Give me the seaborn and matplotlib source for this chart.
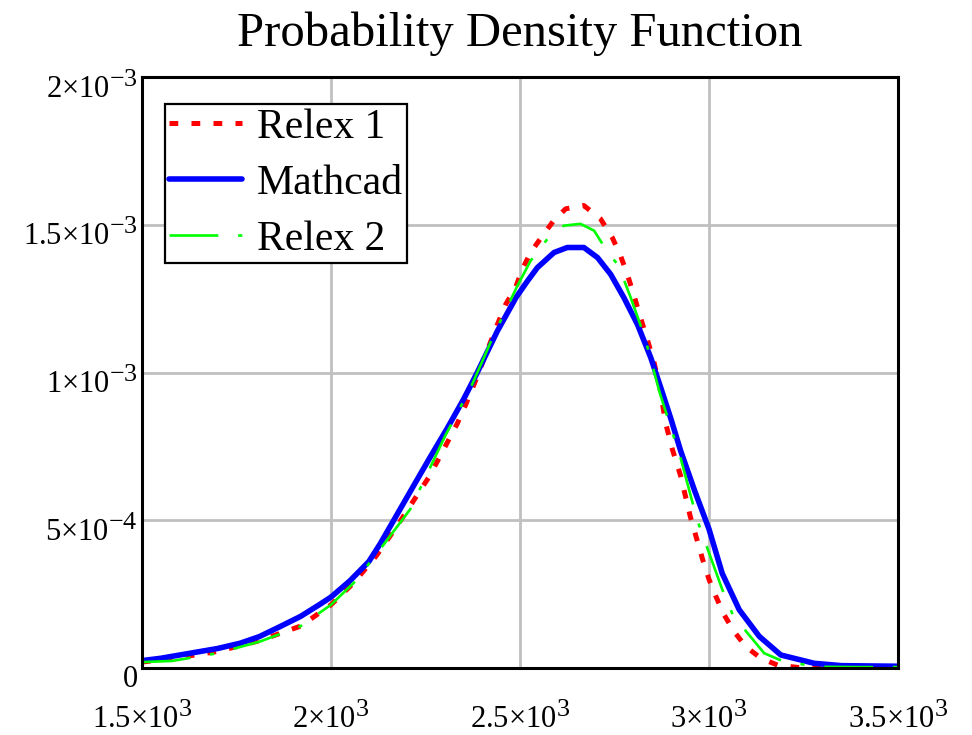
import numpy as np
import pandas as pd
import matplotlib
matplotlib.use("Agg")
import matplotlib.pyplot as plt
import matplotlib.transforms as mtransforms
from matplotlib.ticker import FixedLocator, FixedFormatter
import seaborn as sns

try:
    import matplotlib._mathtext as _mt
    _mt.SHRINK_FACTOR = 0.85
except Exception:
    pass

# ---------------- data ----------------
mathcad_x = [1500, 1550, 1600, 1650, 1700, 1760, 1810, 1865, 1920, 1970, 2000,
             2050, 2100, 2130, 2166, 2220, 2263, 2307, 2351, 2387, 2440, 2490,
             2520, 2546, 2590, 2625, 2669, 2705, 2740, 2775, 2811, 2846, 2872,
             2900, 2925, 2962, 3000, 3035, 3080, 3133, 3190, 3278, 3350, 3420,
             3500]
mathcad_y = [2.5e-5, 3.3e-5, 4.4e-5, 5.5e-5, 6.6e-5, 8.4e-5, 1.06e-4, 1.40e-4,
             1.75e-4, 2.15e-4, 2.4e-4, 2.95e-4, 3.6e-4, 4.2e-4, 5.0e-4,
             6.2e-4, 7.15e-4, 8.1e-4, 9.1e-4, 1.0e-3, 1.14e-3, 1.255e-3,
             1.31e-3, 1.355e-3, 1.406e-3, 1.423e-3, 1.423e-3, 1.389e-3,
             1.332e-3, 1.253e-3, 1.162e-3, 1.05e-3, 9.5e-4, 8.4e-4, 7.35e-4,
             6.0e-4, 4.7e-4, 3.2e-4, 1.97e-4, 1.07e-4, 4.4e-5, 1.6e-5, 8e-6,
             7e-6, 6e-6]

relex1_x = [1500, 1600, 1700, 1810, 1920, 2000, 2060, 2120, 2175, 2259, 2285,
            2334, 2356, 2378, 2440, 2462, 2489, 2506, 2528, 2563, 2591, 2621,
            2669, 2713, 2744, 2766, 2784, 2802, 2819, 2837, 2854, 2870, 2885,
            2903, 2925, 2950, 2983, 3000, 3018, 3040, 3066, 3097, 3137, 3181,
            3234, 3350, 3500]
relex1_y = [2.0e-5, 3.6e-5, 5.6e-5, 9.2e-5, 1.42e-4, 2.14e-4, 2.88e-4, 3.8e-4,
            4.81e-4, 6.46e-4, 7.08e-4, 8.27e-4, 8.9e-4, 9.58e-4, 1.162e-3,
            1.23e-3, 1.29e-3, 1.349e-3, 1.406e-3, 1.469e-3, 1.517e-3, 1.554e-3,
            1.565e-3, 1.52e-3, 1.457e-3, 1.395e-3, 1.332e-3, 1.259e-3, 1.185e-3,
            1.111e-3, 1.037e-3, 9.5e-4, 8.3e-4, 7.4e-4, 6.5e-4, 5.15e-4,
            3.68e-4, 3.0e-4, 2.43e-4, 1.8e-4, 1.24e-4, 7.3e-5, 3.3e-5, 1.0e-5,
            2e-6, 1e-6, 0.0]

relex2_x = [1500, 1580, 1700, 1813, 1919, 2000, 2060, 2120, 2210, 2303, 2369,
            2431, 2493, 2528, 2572, 2616, 2660, 2696, 2731, 2758, 2776, 2793,
            2830, 2870, 2925, 2969, 3000, 3035, 3061, 3091, 3146, 3199, 3261,
            3300, 3400, 3500]
relex2_y = [2.0e-5, 2.4e-5, 5.0e-5, 9.0e-5, 1.41e-4, 2.14e-4, 2.88e-4, 3.85e-4,
            5.38e-4, 7.88e-4, 9.47e-4, 1.128e-3, 1.293e-3, 1.378e-3, 1.451e-3,
            1.497e-3, 1.503e-3, 1.48e-3, 1.409e-3, 1.366e-3, 1.31e-3, 1.253e-3,
            1.12e-3, 9.3e-4, 7.1e-4, 5.0e-4, 3.9e-4, 2.66e-4, 1.86e-4, 1.35e-4,
            5.0e-5, 2.1e-5, 1.0e-5, 4e-6, 3e-6, 3e-6]

x_ticks = [1500, 2000, 2500, 3000, 3500]
x_tick_labels = [r"$1.5{\times}10^{3}$", r"$2{\times}10^{3}$", r"$2.5{\times}10^{3}$",
                 r"$3{\times}10^{3}$", r"$3.5{\times}10^{3}$"]
y_ticks = [0, 5e-4, 1e-3, 1.5e-3, 2e-3]
y_tick_labels = ["0", r"$5{\times}10^{-4}$", r"$1{\times}10^{-3}$",
                 r"$1.5{\times}10^{-3}$", r"$2{\times}10^{-3}$"]
title = "Probability Density Function"
series_names = ["Relex 1", "Mathcad", "Relex 2"]

# ---------------- style ----------------
sns.set_theme(style="whitegrid")
plt.rcParams["font.family"] = ["Liberation Serif", "DejaVu Serif"]
plt.rcParams["mathtext.fontset"] = "custom"
plt.rcParams["mathtext.rm"] = "Liberation Serif"
plt.rcParams["mathtext.it"] = "Liberation Serif:italic"
plt.rcParams["mathtext.bf"] = "Liberation Serif:bold"

fig = plt.figure(figsize=(9.72, 7.35), dpi=100)
ax = fig.add_axes([142 / 972, 1 - 668 / 735, 756 / 972, 591 / 735])
ax.set_facecolor("white")

sns.lineplot(x=relex1_x, y=relex1_y, ax=ax, color="#ff0000", linewidth=3.6,
             linestyle=(0, (1.75, 2.65)), label=series_names[0], zorder=3)
sns.lineplot(x=mathcad_x, y=mathcad_y, ax=ax, color="#0000ff", linewidth=4.0,
             linestyle="-", label=series_names[1], zorder=4)
sns.lineplot(x=relex2_x, y=relex2_y, ax=ax, color="#00ff00", linewidth=1.9,
             linestyle=(0, (18.5, 7.5, 1.6, 7.5)), label=series_names[2], zorder=5)

ax.set_xlim(1500, 3500)
ax.set_ylim(0, 2e-3)
ax.xaxis.set_major_locator(FixedLocator(x_ticks))
ax.xaxis.set_major_formatter(FixedFormatter(x_tick_labels))
ax.yaxis.set_major_locator(FixedLocator(y_ticks))
ax.yaxis.set_major_formatter(FixedFormatter(y_tick_labels))
ax.set_xlabel("")
ax.set_ylabel("")

ax.grid(True, color="#c0c0c0", linewidth=2.0)
ax.set_axisbelow(True)
for sp in ax.spines.values():
    sp.set_visible(True)
    sp.set_color("black")
    sp.set_linewidth(2.2)
    sp.set_zorder(6)

ax.tick_params(axis="x", length=0, pad=25, labelsize=22, colors="black")
ax.tick_params(axis="y", length=0, pad=3, labelsize=22, colors="black")

shift = mtransforms.ScaledTranslation(0, -8 / 100, fig.dpi_scale_trans)
for tk in ax.yaxis.get_major_ticks():
    tk.label1.set_transform(tk.label1.get_transform() + shift)

ax.set_title(title, fontsize=35, pad=22, color="black")

leg = ax.legend(loc="upper left", bbox_to_anchor=(23 / 756, 1 - 27 / 591),
                borderaxespad=0, frameon=True, fancybox=False, framealpha=1,
                fontsize=30, handlelength=1.75, handletextpad=0.35,
                labelspacing=0.42, borderpad=0.1, edgecolor="black")
leg.get_frame().set_linewidth(1.6)
for t in leg.get_texts():
    t.set_color("black")

fig.savefig("out.png", dpi=100, facecolor="white")
